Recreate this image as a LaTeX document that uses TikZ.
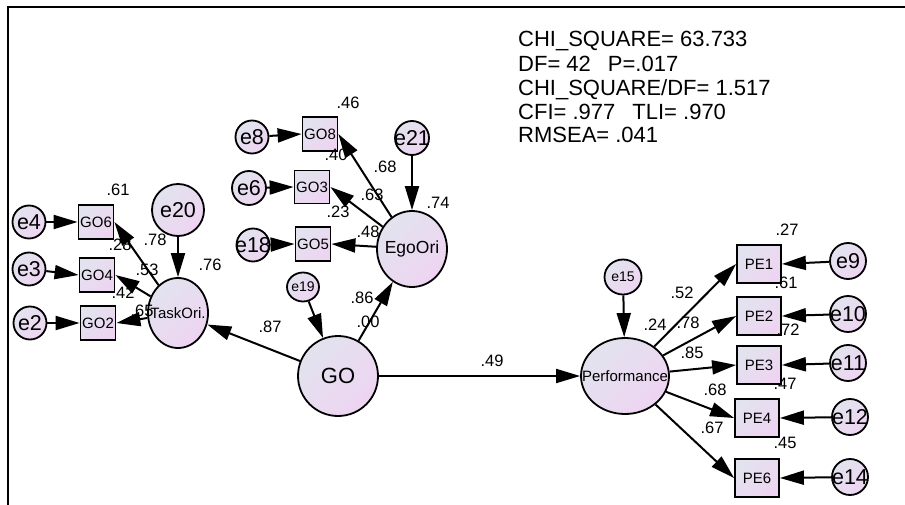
\documentclass[tikz,border=0pt]{standalone}
\usepackage{fontspec}
\setmainfont{Liberation Sans}
\usetikzlibrary{arrows.meta,shapes.geometric}
\definecolor{gA}{RGB}{226,227,238}
\definecolor{gB}{RGB}{238,212,242}
\newcommand\zb[1]{\makebox[0pt]{#1}}
\begin{document}
\begin{tikzpicture}[x=1pt,y=-1pt,
  gfill/.style={top color=gA,bottom color=gB,shading angle=45,draw=black,line width=1.8pt,inner sep=0pt},
  err/.style={gfill,circle,minimum size=#1,font=\fontsize{21.5}{21.5}\selectfont},
  err/.default=33pt,
  serr/.style={gfill,ellipse,minimum width=#1,minimum height=29pt,font=\fontsize{14}{14}\selectfont},
  obs/.style={gfill,rectangle,minimum width=35pt,minimum height=34pt,font=\fontsize{15}{15}\selectfont},
  pobs/.style={gfill,rectangle,minimum width=44pt,minimum height=38pt,font=\fontsize{15}{15}\selectfont},
  lat/.style={gfill,ellipse},
  lbl/.style={font=\fontsize{16.5}{16.5}\selectfont,inner sep=0pt},
  stat/.style={font=\fontsize{22}{22}\selectfont,inner sep=0pt,anchor=base west},
  arr/.style={line width=2pt,-{Triangle[length=24pt,width=14pt]}}]
\useasboundingbox (0,0) rectangle (905,505);
\draw[line width=2.4pt] (8,505) -- (8,7) -- (905,7);

% statistics
\node[stat] (s1) at (518,47) {CHI\_SQUARE= 63.733};
\node[stat] (s2) at (518,71.5) {DF= 42\hspace{17pt}P=.017};
\node[stat] (s3) at (518,95.5) {CHI\_SQUARE/DF= 1.517};
\node[stat] (s4) at (518,119.5) {CFI= .977\hspace{17pt}TLI= .970};
\node[stat] (s5) at (518,143) {RMSEA= .041};

% left group
\node[err] (e4) at (29,222) {\zb{e4}};
\node[err] (e3) at (29,269) {\zb{e3}};
\node[err] (e2) at (30,323) {\zb{e2}};
\node[obs] (go6) at (96,222) {\zb{GO6}};
\node[obs] (go4) at (97,275) {\zb{GO4}};
\node[obs] (go2) at (98,323) {\zb{GO2}};
\node[err=52pt] (e20) at (178,210) {\zb{e20}};
\node[lat,minimum width=60pt,minimum height=70pt,font=\fontsize{15}{15}\selectfont] (task) at (178,313) {\zb{TaskOri.}};

% middle group
\node[err] (e8) at (252,137) {\zb{e8}};
\node[err=34pt] (e6) at (249,188) {\zb{e6}};
\node[err] (e18) at (253,245) {\zb{e18}};
\node[obs] (go8) at (320,134) {\zb{GO8}};
\node[obs,minimum height=33pt] (go3) at (312,187) {\zb{GO3}};
\node[obs] (go5) at (313,244) {\zb{GO5}};
\node[err=34pt] (e21) at (412,138) {\zb{e21}};
\node[lat,minimum width=70pt,minimum height=76pt,font=\fontsize{17.5}{17.5}\selectfont] (ego) at (412,249) {\zb{EgoOri}};
\node[serr=32pt] (e19) at (303,287) {\zb{e19}};
\node[lat,circle,minimum size=80pt,font=\fontsize{22}{22}\selectfont] (go) at (338,376) {\zb{GO}};

% right group
\node[serr=37pt,minimum height=35pt] (e15) at (623,277) {\zb{e15}};
\node[lat,minimum width=88pt,minimum height=76pt,font=\fontsize{15}{15}\selectfont] (perf) at (625,376) {\zb{Performance}};
\node[pobs] (pe1) at (759,264) {\zb{PE1}};
\node[pobs] (pe2) at (759,316) {\zb{PE2}};
\node[pobs] (pe3) at (759,365) {\zb{PE3}};
\node[pobs] (pe4) at (757,418) {\zb{PE4}};
\node[pobs] (pe6) at (757,478) {\zb{PE6}};
\node[err=36pt] (e9) at (848,261) {\zb{e9}};
\node[err=36pt] (e10) at (848,314) {\zb{e10}};
\node[err=36pt] (e11) at (848,363) {\zb{e11}};
\node[err=36pt] (e12) at (850,417) {\zb{e12}};
\node[err=36pt] (e14) at (850,477) {\zb{e14}};

% labels
\node[lbl] (l1) at (118,190) {.61};
\node[lbl] (l2) at (120,245) {.28};
\node[lbl] (l3) at (155,240) {.78};
\node[lbl] (l4) at (147,270) {.53};
\node[lbl] (l5) at (210,265) {.76};
\node[lbl] (l6) at (123,293) {.42};
\node[lbl] (l7) at (142,311) {.65};
\node[lbl] (l8) at (348,103) {.46};
\node[lbl] (l9) at (336,155) {.40};
\node[lbl] (l10) at (385,167) {.68};
\node[lbl] (l11) at (372,195) {.63};
\node[lbl] (l12) at (438,203) {.74};
\node[lbl] (l13) at (338,212) {.23};
\node[lbl] (l14) at (368,232) {.48};
\node[lbl] (l15) at (362,298) {.86};
\node[lbl] (l16) at (368,322) {.00};
\node[lbl] (l17) at (270,327) {.87};
\node[lbl] (l18) at (492,361) {.49};
\node[lbl] (l19) at (655,325) {.24};
\node[lbl] (l20) at (682,293) {.52};
\node[lbl] (l21) at (688,323) {.78};
\node[lbl] (l22) at (692,353) {.85};
\node[lbl] (l23) at (715,390) {.68};
\node[lbl] (l24) at (712,428) {.67};
\node[lbl] (l25) at (787,230) {.27};
\node[lbl] (l26) at (786,283) {.61};
\node[lbl] (l27) at (788,330) {.72};
\node[lbl] (l28) at (785,384) {.47};
\node[lbl] (l29) at (785,443) {.45};

% connectors
\draw[arr] (e4) -- (go6.west);
\draw[arr] (e3) -- (go4.west);
\draw[arr] (e2) -- (go2.west);
\draw[arr] (task) -- (go6.east);
\draw[arr] (task) -- (go4.east);
\draw[arr] (task) -- (go2.east);
\draw[arr] (e20) -- (task);
\draw[arr] (go) -- (task);
\draw[arr] (e8) -- (go8.west);
\draw[arr] (e6) -- (go3.west);
\draw[arr] (e18) -- (go5.west);
\draw[arr] (ego) -- (go8.east);
\draw[arr] (ego) -- (go3.east);
\draw[arr] (ego) -- (go5.east);
\draw[arr] (e21) -- (ego);
\draw[arr] (go) -- (ego);
\draw[arr] (e19) -- (go);
\draw[arr] (go) -- (perf);
\draw[arr] (e15) -- (perf);
\draw[arr] (perf) -- (pe1.west);
\draw[arr] (perf) -- (pe2.west);
\draw[arr] (perf) -- (pe3.west);
\draw[arr] (perf) -- (pe4.west);
\draw[arr] (perf) -- (pe6.west);
\draw[arr] (e9) -- (pe1.east);
\draw[arr] (e10) -- (pe2.east);
\draw[arr] (e11) -- (pe3.east);
\draw[arr] (e12) -- (pe4.east);
\draw[arr] (e14) -- (pe6.east);
\end{tikzpicture}
\end{document}
